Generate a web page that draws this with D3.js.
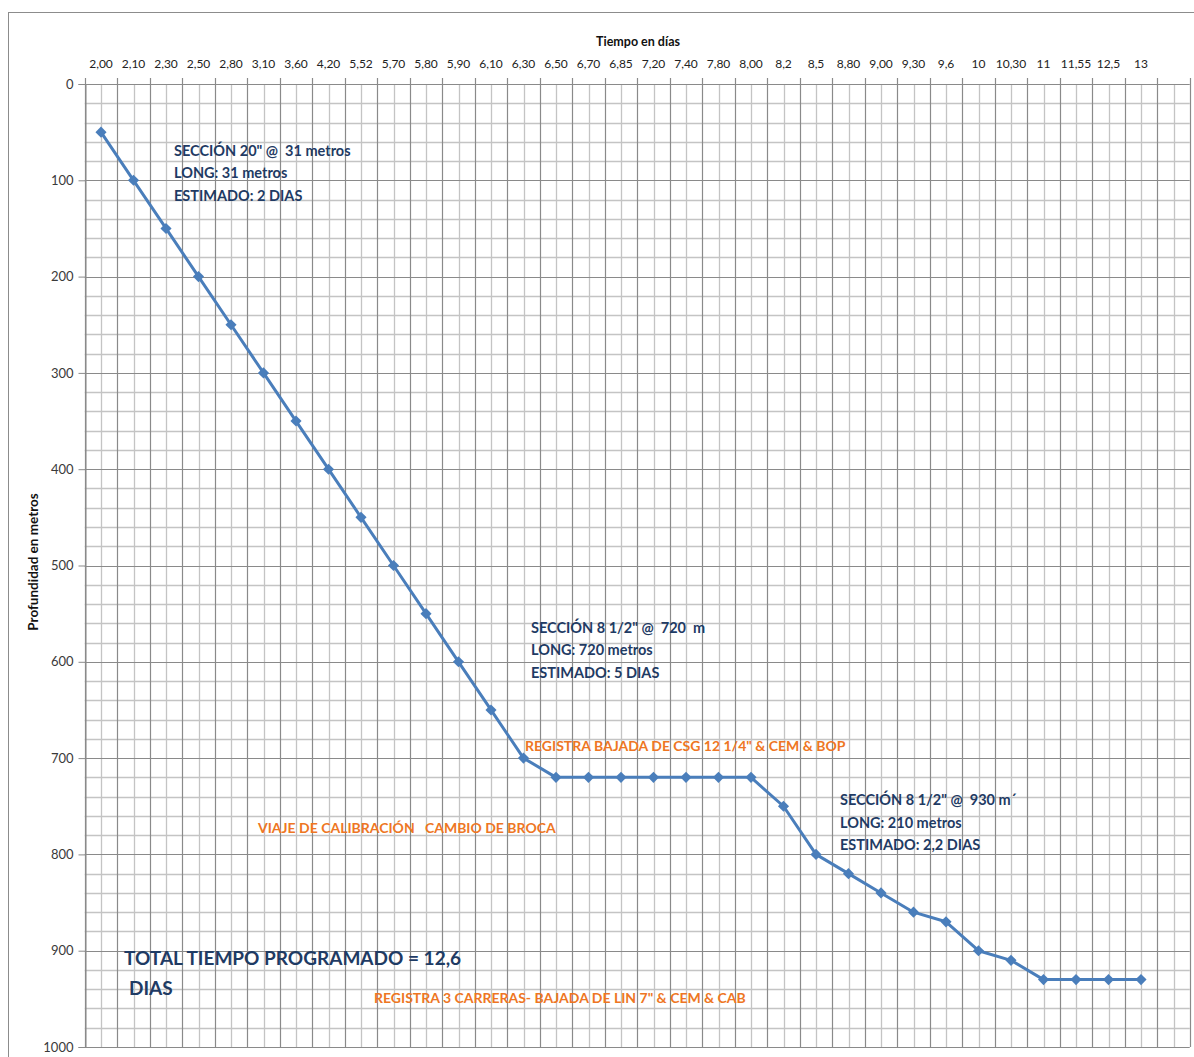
<!DOCTYPE html>
<html>
<head>
<meta charset="utf-8">
<script src="https://cdn.jsdelivr.net/npm/d3@7"></script>
<style>
  html, body { margin: 0; padding: 0; background: #fff; }
  svg { display: block; }
  text { font-family: Lato, "Open Sans", sans-serif; }
  text.keep { white-space: pre; }
</style>
</head>
<body>
<div id="chart"></div>
<script>
// Time labels (days) on the category axis; last slot is an empty category
const categories = ["2,00","2,10","2,30","2,50","2,80","3,10","3,60","4,20","5,52","5,70",
  "5,80","5,90","6,10","6,30","6,50","6,70","6,85","7,20","7,40","7,80","8,00","8,2",
  "8,5","8,80","9,00","9,30","9,6","10","10,30","11","11,55","12,5","13",""];

// Planned depth (metres) at each time label
const depth = [50,100,150,200,250,300,350,400,450,500,550,600,650,700,720,720,720,720,
  720,720,720,750,800,820,840,860,870,900,910,930,930,930,930,null];

const depthTicks = [0,100,200,300,400,500,600,700,800,900,1000];

// Section notes: [text, left x, centre y]
const notesBlue = [
  ["SECCIÓN 20\" @  31 metros", 174, 151],
  ["LONG: 31 metros", 174, 173],
  ["ESTIMADO: 2 DIAS", 174, 196],
  ["SECCIÓN 8 1/2\" @  720  m", 531, 628],
  ["LONG: 720 metros", 531, 650],
  ["ESTIMADO: 5 DIAS", 531, 673],
  ["SECCIÓN 8 1/2\" @  930 m´", 840, 800],
  ["LONG: 210 metros", 840, 823],
  ["ESTIMADO: 2,2 DIAS", 840, 845]
];

// Operation notes: [text, left x, centre y]
const notesOrange = [
  ["REGISTRA BAJADA DE CSG 12 1/4\" & CEM & BOP", 525, 746],
  ["VIAJE DE CALIBRACIÓN   CAMBIO DE BROCA", 258, 828],
  ["REGISTRA 3 CARRERAS- BAJADA DE LIN 7\" & CEM & CAB", 374, 998]
];

const W = 1194, H = 1057;
const plot = { left: 84.75, right: 1189.75, top: 84, bottom: 1047 };

const svg = d3.select("#chart").append("svg")
  .attr("width", W).attr("height", H);

// chart area border
svg.append("rect")
  .attr("x", 8.5).attr("y", 12.5)
  .attr("width", W + 10).attr("height", H + 10)
  .attr("fill", "#fff").attr("stroke", "#8c8c8c").attr("stroke-width", 1);

const x = d3.scaleBand().domain(categories).range([plot.left, plot.right]).padding(0);
const y = d3.scaleLinear().domain([0, 1000]).range([plot.top, plot.bottom]);
const bw = x.bandwidth();
const cx = c => x(c) + bw / 2;

const grid = svg.append("g");

// minor horizontal grid every 20 m
grid.selectAll("line.hmin")
  .data(d3.range(20, 1000, 20).filter(v => v % 100 !== 0))
  .join("line")
  .attr("x1", plot.left).attr("x2", plot.right)
  .attr("y1", d => Math.round(y(d)) + 0.5).attr("y2", d => Math.round(y(d)) + 0.5)
  .attr("stroke", "#c4c4c4").attr("stroke-width", 1.3);

// minor vertical grid at the centre of each category
grid.selectAll("line.vmin")
  .data(categories)
  .join("line")
  .attr("x1", d => Math.round(cx(d)) + 0.5).attr("x2", d => Math.round(cx(d)) + 0.5)
  .attr("y1", plot.top).attr("y2", plot.bottom)
  .attr("stroke", "#c4c4c4").attr("stroke-width", 1.3);

// major horizontal grid every 100 m
grid.selectAll("line.hmaj")
  .data(depthTicks)
  .join("line")
  .attr("x1", plot.left).attr("x2", plot.right)
  .attr("y1", d => Math.round(y(d)) + 0.5).attr("y2", d => Math.round(y(d)) + 0.5)
  .attr("stroke", "#8a8a8a").attr("stroke-width", 1.2);

// major vertical grid on category boundaries
const bounds = categories.map(c => x(c)).concat([plot.right]);
grid.selectAll("line.vmaj")
  .data(bounds)
  .join("line")
  .attr("x1", d => Math.round(d) + 0.5).attr("x2", d => Math.round(d) + 0.5)
  .attr("y1", plot.top - 6).attr("y2", plot.bottom)
  .attr("stroke", "#8a8a8a").attr("stroke-width", 1.2);

// depth axis (left)
const yAxis = svg.append("g")
  .attr("transform", `translate(${Math.round(plot.left) + 0.5},0)`)
  .call(d3.axisLeft(y).tickValues(depthTicks).tickSize(7).tickPadding(5).tickFormat(d3.format("d")));
yAxis.select(".domain").attr("stroke", "#8a8a8a");
yAxis.selectAll(".tick line").attr("stroke", "#8a8a8a");
yAxis.selectAll(".tick text").attr("font-size", 13).attr("fill", "#3a3a3a");

// time axis (top)
const xAxis = svg.append("g")
  .attr("transform", `translate(0,${plot.top})`)
  .call(d3.axisTop(x).tickSize(0).tickPadding(16));
xAxis.select(".domain").remove();
xAxis.selectAll(".tick text").attr("font-size", 12).attr("fill", "#222");

// axis titles
svg.append("text")
  .attr("x", 638).attr("y", 46)
  .attr("text-anchor", "middle")
  .attr("font-size", 12.5).attr("font-weight", 700).attr("fill", "#111")
  .text("Tiempo en días");

svg.append("text")
  .attr("transform", "translate(38,562) rotate(-90)")
  .attr("text-anchor", "middle")
  .attr("font-size", 13.5).attr("font-weight", 700).attr("fill", "#111")
  .text("Profundidad en metros");

// depth line
const lineColor = "#4a7ebb";
const pts = categories.map((c, i) => ({ c, v: depth[i] })).filter(d => d.v != null);

svg.append("path")
  .datum(pts)
  .attr("fill", "none")
  .attr("stroke", lineColor)
  .attr("stroke-width", 3)
  .attr("stroke-linejoin", "round")
  .attr("d", d3.line().x(d => cx(d.c)).y(d => y(d.v)));

svg.selectAll("path.marker")
  .data(pts)
  .join("path")
  .attr("class", "marker")
  .attr("d", d3.symbol(d3.symbolSquare, 62)())
  .attr("transform", d => `translate(${cx(d.c)},${y(d.v)}) rotate(45)`)
  .attr("fill", lineColor);

// notes
const navy = "#1f3b64";
const orange = "#ee7623";

svg.selectAll("text.note")
  .data(notesBlue)
  .join("text")
  .attr("class", "note keep")
  .attr("x", d => d[1])
  .attr("y", d => d[2])
  .attr("dy", "0.35em")
  .attr("font-size", 14.5).attr("font-weight", 700)
  .attr("fill", navy)
  .text(d => d[0]);

svg.selectAll("text.onote")
  .data(notesOrange)
  .join("text")
  .attr("class", "onote keep")
  .attr("x", d => d[1]).attr("y", d => d[2])
  .attr("dy", "0.35em")
  .attr("font-size", 14).attr("font-weight", 700)
  .attr("fill", orange)
  .text(d => d[0]);

svg.append("text")
  .attr("x", 124).attr("y", 958).attr("dy", "0.35em")
  .attr("font-size", 19).attr("font-weight", 700).attr("fill", navy)
  .text("TOTAL TIEMPO PROGRAMADO = 12,6");
svg.append("text")
  .attr("x", 129).attr("y", 988).attr("dy", "0.35em")
  .attr("font-size", 19).attr("font-weight", 700).attr("fill", navy)
  .text("DIAS");
</script>
</body>
</html>
